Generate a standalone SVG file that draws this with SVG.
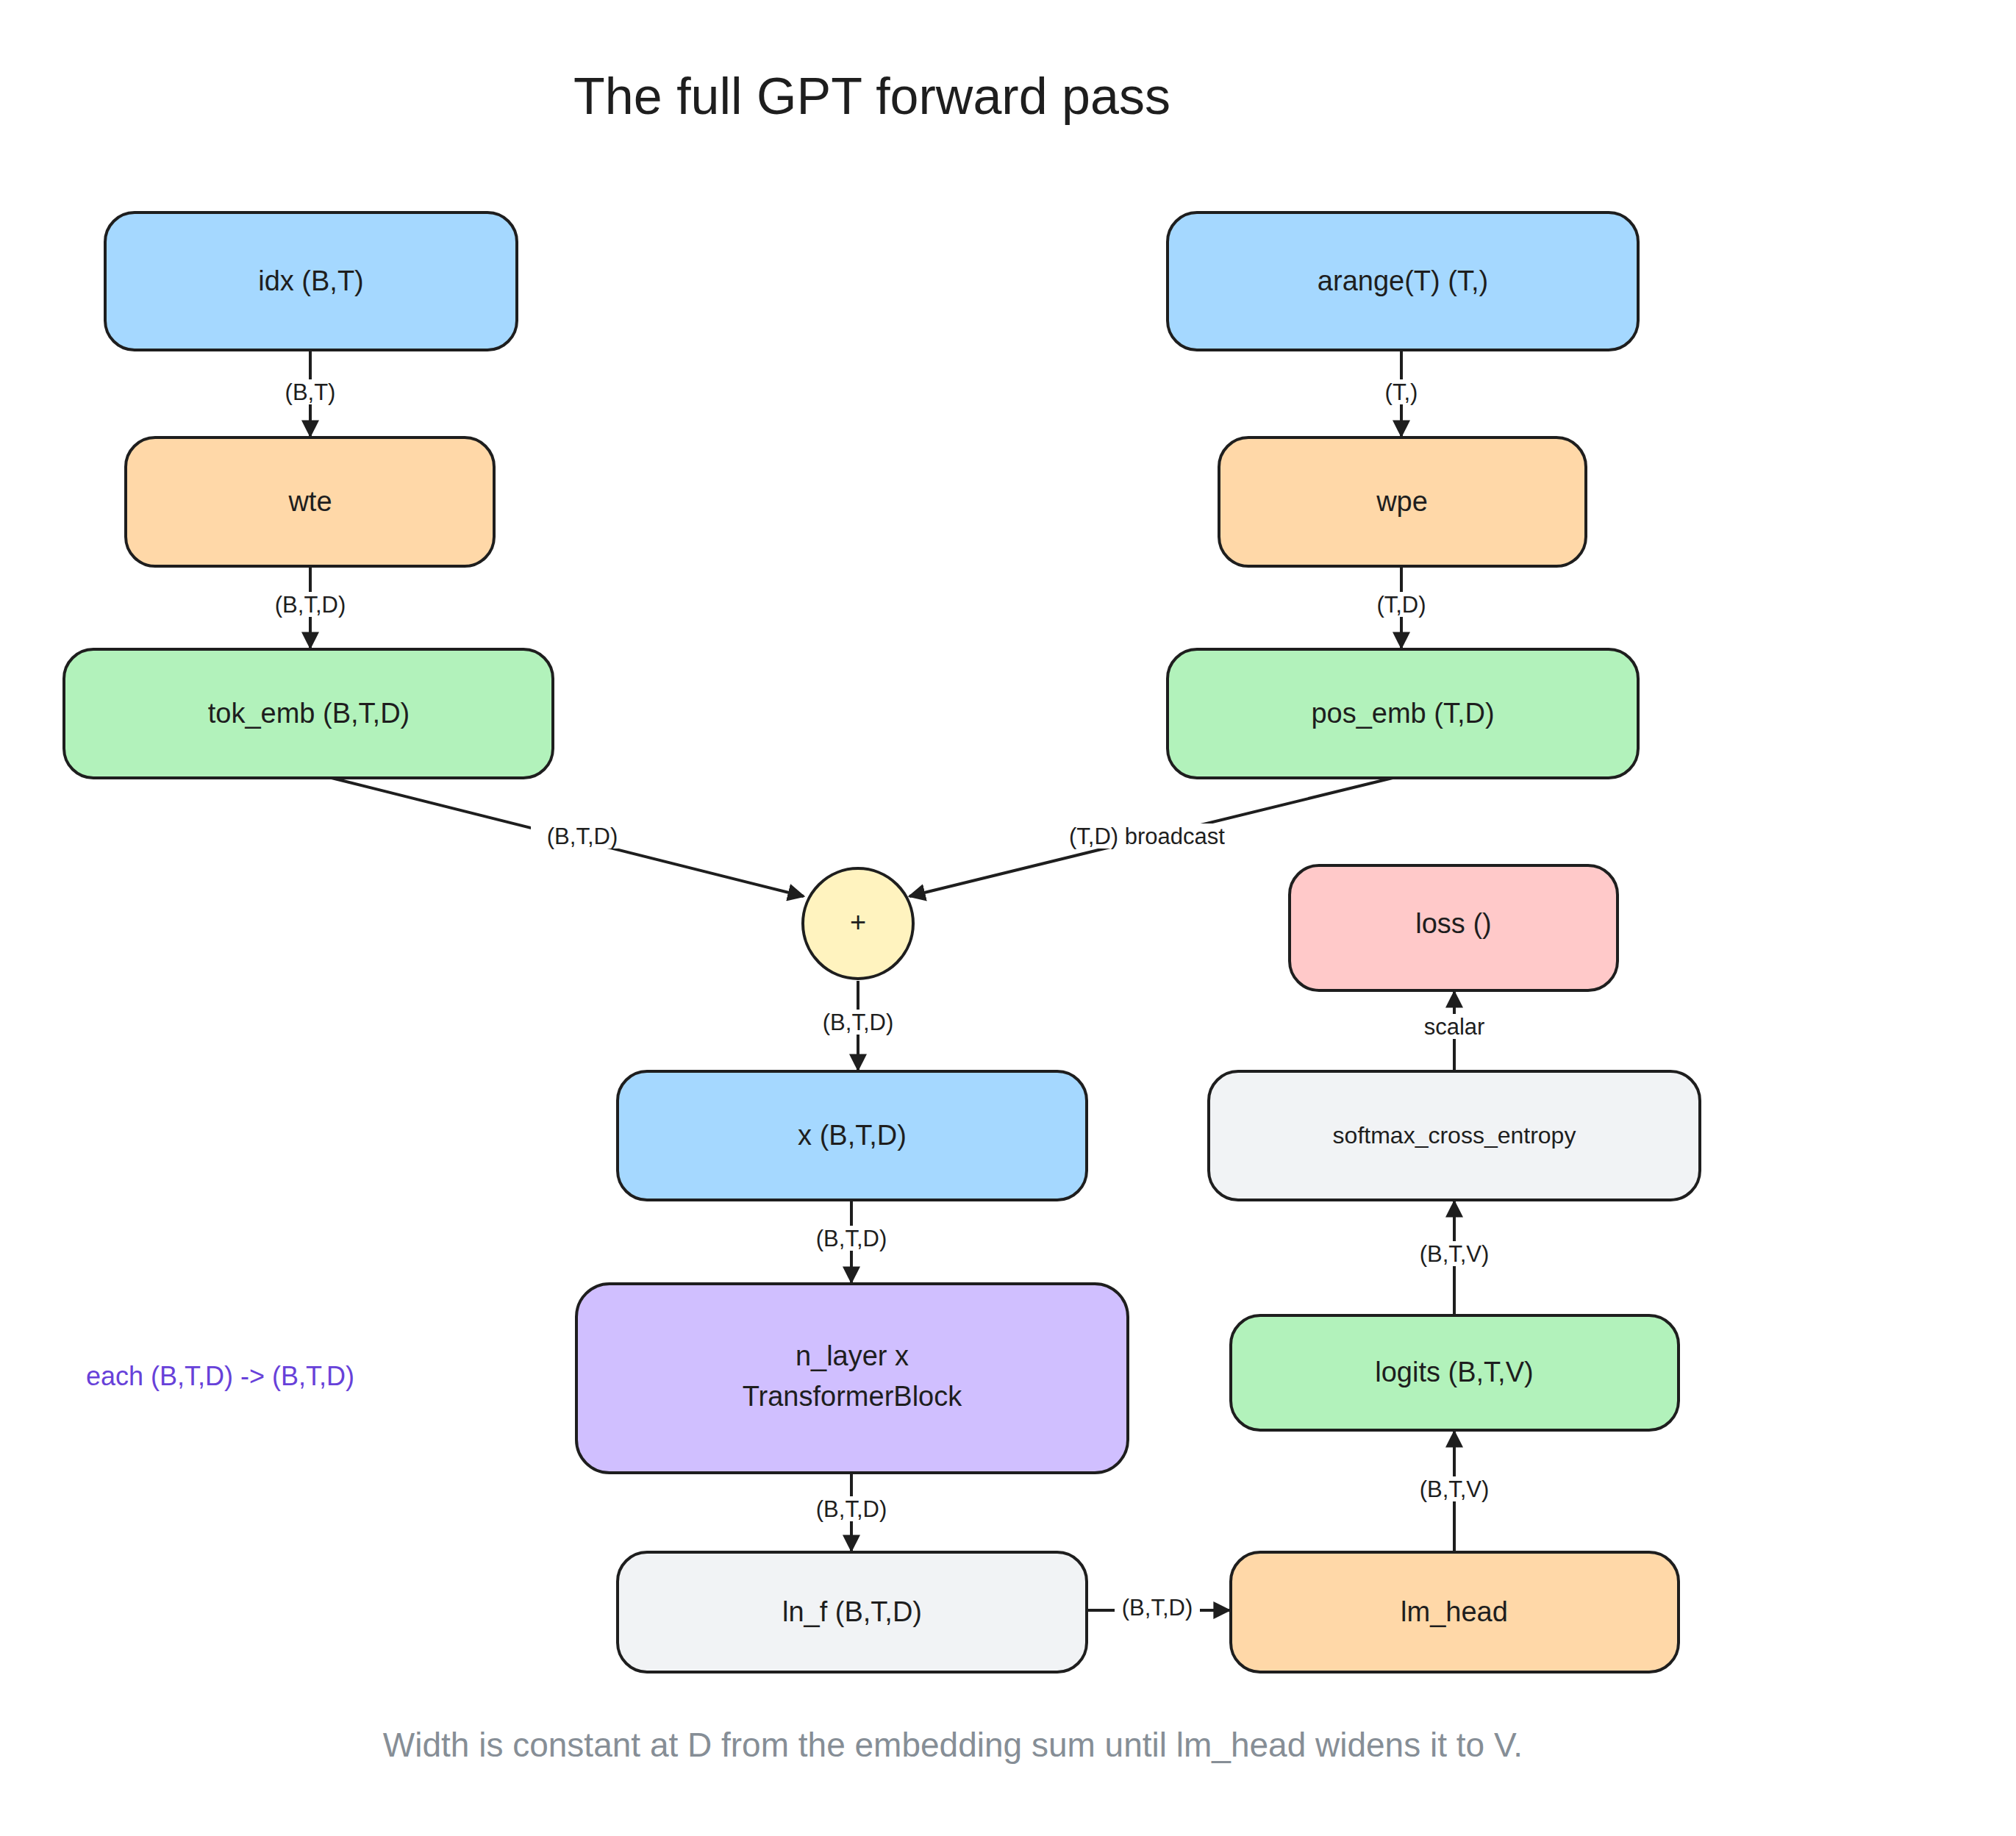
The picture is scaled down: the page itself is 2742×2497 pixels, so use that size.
<svg xmlns="http://www.w3.org/2000/svg" width="2742" height="2497" viewBox="0 0 2742 2497">
<style>
.n{stroke:#1e1e1e;stroke-width:4}
.t{font-family:"Liberation Sans",Arial,sans-serif;font-size:38px;fill:#1e1e1e;text-anchor:middle;dominant-baseline:central}
.l{font-family:"Liberation Sans",Arial,sans-serif;font-size:31px;fill:#1e1e1e;text-anchor:middle;dominant-baseline:central}
.e{stroke:#1e1e1e;stroke-width:4;fill:none;marker-end:url(#a)}
</style>
<defs><marker id="a" viewBox="0 0 10 10" refX="9" refY="5" markerWidth="6" markerHeight="6" orient="auto-start-reverse" markerUnits="strokeWidth"><path d="M0,0L10,5L0,10z" fill="#1e1e1e"/></marker></defs>
<rect width="2742" height="2497" fill="#fff"/>
<text x="1186" y="131" class="t" style="font-size:70px">The full GPT forward pass</text>
<g id="edges">
<line class="e" x1="422" y1="476" x2="422" y2="593"/>
<line class="e" x1="422" y1="770" x2="422" y2="881"/>
<line class="e" x1="1906" y1="476" x2="1906" y2="593"/>
<line class="e" x1="1906" y1="770" x2="1906" y2="881"/>
<line class="e" x1="451" y1="1058" x2="1093" y2="1219"/>
<line class="e" x1="1894" y1="1058" x2="1237" y2="1219"/>
<line class="e" x1="1167" y1="1334" x2="1167" y2="1455"/>
<line class="e" x1="1158" y1="1632" x2="1158" y2="1744"/>
<line class="e" x1="1158" y1="2003" x2="1158" y2="2109"/>
<line class="e" x1="1478" y1="2190" x2="1672" y2="2190"/>
<line class="e" x1="1978" y1="2111" x2="1978" y2="1947"/>
<line class="e" x1="1978" y1="1789" x2="1978" y2="1634"/>
<line class="e" x1="1978" y1="1457" x2="1978" y2="1349"/>
<g fill="#fff">
<rect x="376" y="516" width="92" height="34"/><rect x="360" y="805" width="124" height="34"/>
<rect x="1878" y="516" width="56" height="34"/><rect x="1865" y="805" width="82" height="34"/>
<rect x="722" y="1120" width="140" height="34"/><rect x="1424" y="1120" width="272" height="34"/>
<rect x="1105" y="1373" width="124" height="34"/><rect x="1096" y="1667" width="124" height="34"/>
<rect x="1096" y="2035" width="124" height="34"/><rect x="1516" y="2169" width="116" height="34"/>
<rect x="1916" y="2008" width="124" height="34"/><rect x="1916" y="1688" width="124" height="34"/>
<rect x="1922" y="1379" width="112" height="34"/>
</g>
<text class="l" x="422" y="533">(B,T)</text><text class="l" x="422" y="822">(B,T,D)</text>
<text class="l" x="1906" y="533">(T,)</text><text class="l" x="1906" y="822">(T,D)</text>
<text class="l" x="792" y="1137">(B,T,D)</text><text class="l" x="1560" y="1137">(T,D) broadcast</text>
<text class="l" x="1167" y="1390">(B,T,D)</text><text class="l" x="1158" y="1684">(B,T,D)</text>
<text class="l" x="1158" y="2052">(B,T,D)</text><text class="l" x="1574" y="2186">(B,T,D)</text>
<text class="l" x="1978" y="2025">(B,T,V)</text><text class="l" x="1978" y="1705">(B,T,V)</text>
<text class="l" x="1978" y="1396">scalar</text>
</g>
<g id="idx"><rect class="n" x="143" y="289" width="560" height="187" rx="40" fill="#a5d8ff"/><text class="t" x="423" y="382">idx (B,T)</text></g>
<g id="wte"><rect class="n" x="171" y="595" width="501" height="175" rx="40" fill="#ffd8a8"/><text class="t" x="422" y="682">wte</text></g>
<g id="tok_emb"><rect class="n" x="87" y="883" width="665" height="175" rx="40" fill="#b2f2bb"/><text class="t" x="420" y="970">tok_emb (B,T,D)</text></g>
<g id="arange"><rect class="n" x="1588" y="289" width="640" height="187" rx="40" fill="#a5d8ff"/><text class="t" x="1908" y="382">arange(T) (T,)</text></g>
<g id="wpe"><rect class="n" x="1658" y="595" width="499" height="175" rx="40" fill="#ffd8a8"/><text class="t" x="1907" y="682">wpe</text></g>
<g id="pos_emb"><rect class="n" x="1588" y="883" width="640" height="175" rx="40" fill="#b2f2bb"/><text class="t" x="1908" y="970">pos_emb (T,D)</text></g>
<g id="plus"><circle class="n" cx="1167" cy="1256" r="75" fill="#fff3bf"/><text class="t" x="1167" y="1254">+</text></g>
<g id="x"><rect class="n" x="840" y="1457" width="638" height="175" rx="40" fill="#a5d8ff"/><text class="t" x="1159" y="1544">x (B,T,D)</text></g>
<g id="nlayer"><rect class="n" x="784" y="1746" width="750" height="257" rx="45" fill="#d0bfff"/><text class="t" x="1159" y="1844">n_layer x</text><text class="t" x="1159" y="1899">TransformerBlock</text></g>
<g id="ln_f"><rect class="n" x="840" y="2111" width="638" height="163" rx="40" fill="#f1f3f5"/><text class="t" x="1159" y="2192">ln_f (B,T,D)</text></g>
<g id="lm_head"><rect class="n" x="1674" y="2111" width="609" height="163" rx="40" fill="#ffd8a8"/><text class="t" x="1978" y="2192">lm_head</text></g>
<g id="logits"><rect class="n" x="1674" y="1789" width="609" height="156" rx="40" fill="#b2f2bb"/><text class="t" x="1978" y="1866">logits (B,T,V)</text></g>
<g id="softmax"><rect class="n" x="1644" y="1457" width="668" height="175" rx="40" fill="#f1f3f5"/><text class="t" x="1978" y="1544" style="font-size:32px">softmax_cross_entropy</text></g>
<g id="loss"><rect class="n" x="1754" y="1177" width="446" height="170" rx="40" fill="#ffc9c9"/><text class="t" x="1977" y="1256">loss ()</text></g>
<text class="l" x="117" y="1871" style="text-anchor:start;fill:#6741d9;font-size:36px">each (B,T,D) -&gt; (B,T,D)</text>
<text class="t" x="1296" y="2373" style="fill:#868e96;font-size:46px">Width is constant at D from the embedding sum until lm_head widens it to V.</text>
</svg>
